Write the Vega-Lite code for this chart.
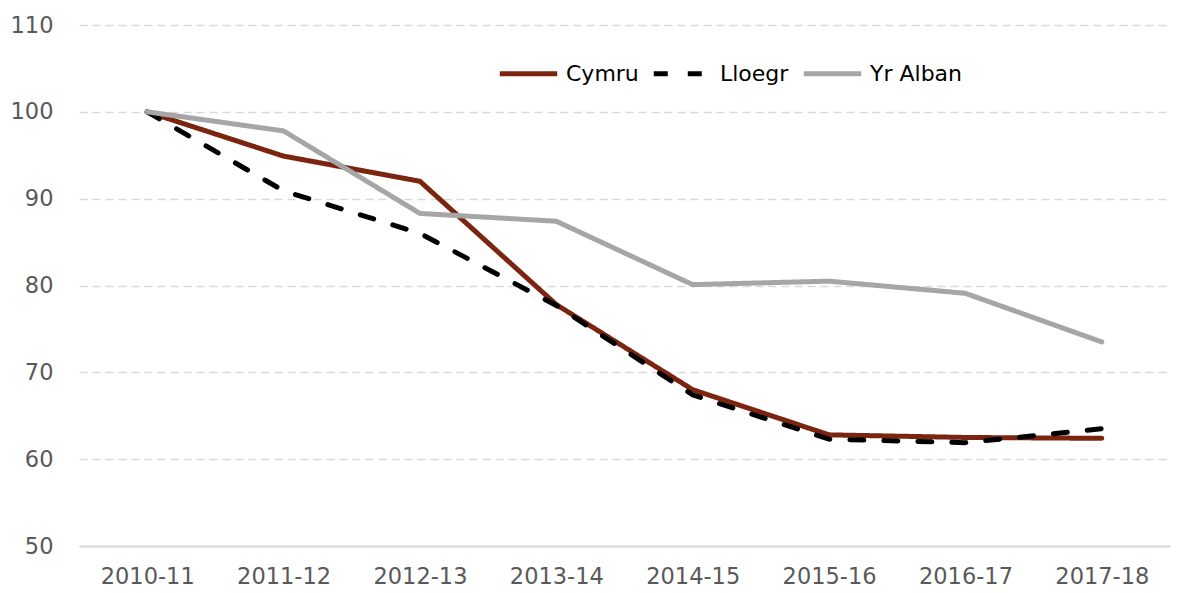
{
  "$schema": "https://vega.github.io/schema/vega-lite/v6.json",
  "autosize": "none",
  "width": 1091,
  "height": 521,
  "padding": {"left": 79, "top": 25, "right": 12, "bottom": 47},
  "background": "white",
  "config": {
    "view": {"stroke": null},
    "font": "DejaVu Sans"
  },
  "data": {
    "values": [
      {"year": "2010-11", "series": "Cymru", "value": 100},
      {"year": "2011-12", "series": "Cymru", "value": 94.9},
      {"year": "2012-13", "series": "Cymru", "value": 92.0},
      {"year": "2013-14", "series": "Cymru", "value": 77.8},
      {"year": "2014-15", "series": "Cymru", "value": 68.0},
      {"year": "2015-16", "series": "Cymru", "value": 62.8},
      {"year": "2016-17", "series": "Cymru", "value": 62.5},
      {"year": "2017-18", "series": "Cymru", "value": 62.4},
      {"year": "2010-11", "series": "Lloegr", "value": 100},
      {"year": "2011-12", "series": "Lloegr", "value": 90.9},
      {"year": "2012-13", "series": "Lloegr", "value": 86.0},
      {"year": "2013-14", "series": "Lloegr", "value": 77.7},
      {"year": "2014-15", "series": "Lloegr", "value": 67.4},
      {"year": "2015-16", "series": "Lloegr", "value": 62.3},
      {"year": "2016-17", "series": "Lloegr", "value": 61.9},
      {"year": "2017-18", "series": "Lloegr", "value": 63.5},
      {"year": "2010-11", "series": "Yr Alban", "value": 100},
      {"year": "2011-12", "series": "Yr Alban", "value": 97.8},
      {"year": "2012-13", "series": "Yr Alban", "value": 88.3},
      {"year": "2013-14", "series": "Yr Alban", "value": 87.4},
      {"year": "2014-15", "series": "Yr Alban", "value": 80.1},
      {"year": "2015-16", "series": "Yr Alban", "value": 80.5},
      {"year": "2016-17", "series": "Yr Alban", "value": 79.1},
      {"year": "2017-18", "series": "Yr Alban", "value": 73.5}
    ]
  },
  "mark": {"type": "line", "strokeWidth": 5, "strokeCap": "round", "strokeJoin": "round"},
  "encoding": {
    "x": {
      "field": "year",
      "type": "ordinal",
      "scale": {"type": "point", "padding": 0.5},
      "axis": {
        "title": null,
        "labelAngle": 0,
        "labelFont": "DejaVu Sans",
        "labelFontSize": 22.5,
        "labelColor": "#595959",
        "labelPadding": 19,
        "ticks": false,
        "domain": true,
        "domainColor": "#D9D9D9",
        "domainWidth": 2,
        "grid": false
      }
    },
    "y": {
      "field": "value",
      "type": "quantitative",
      "scale": {"domain": [50, 110], "nice": false, "zero": false},
      "axis": {
        "title": null,
        "values": [50, 60, 70, 80, 90, 100, 110],
        "labelFont": "DejaVu Sans",
        "labelFontSize": 22.5,
        "labelColor": "#595959",
        "labelPadding": 26,
        "ticks": false,
        "domain": false,
        "grid": true,
        "gridColor": "#D9D9D9",
        "gridWidth": 1.5,
        "gridDash": [8, 5]
      }
    },
    "color": {
      "field": "series",
      "type": "nominal",
      "sort": ["Cymru", "Lloegr", "Yr Alban"],
      "scale": {"domain": ["Cymru", "Lloegr", "Yr Alban"], "range": ["#7B2410", "#000000", "#A6A6A6"]},
      "legend": {
        "title": null,
        "orient": "none",
        "direction": "horizontal",
        "legendX": 418,
        "legendY": 17,
        "symbolType": "stroke",
        "symbolSize": 3300,
        "symbolStrokeWidth": 5,
        "labelFont": "DejaVu Sans",
        "labelFontSize": 22,
        "labelColor": "#000000",
        "labelOffset": 6,
        "columnPadding": 4
      }
    },
    "strokeDash": {
      "field": "series",
      "type": "nominal",
      "sort": ["Cymru", "Lloegr", "Yr Alban"],
      "scale": {"domain": ["Cymru", "Lloegr", "Yr Alban"], "range": [[1, 0], [14, 20], [1, 0]]},
      "legend": null
    }
  }
}
